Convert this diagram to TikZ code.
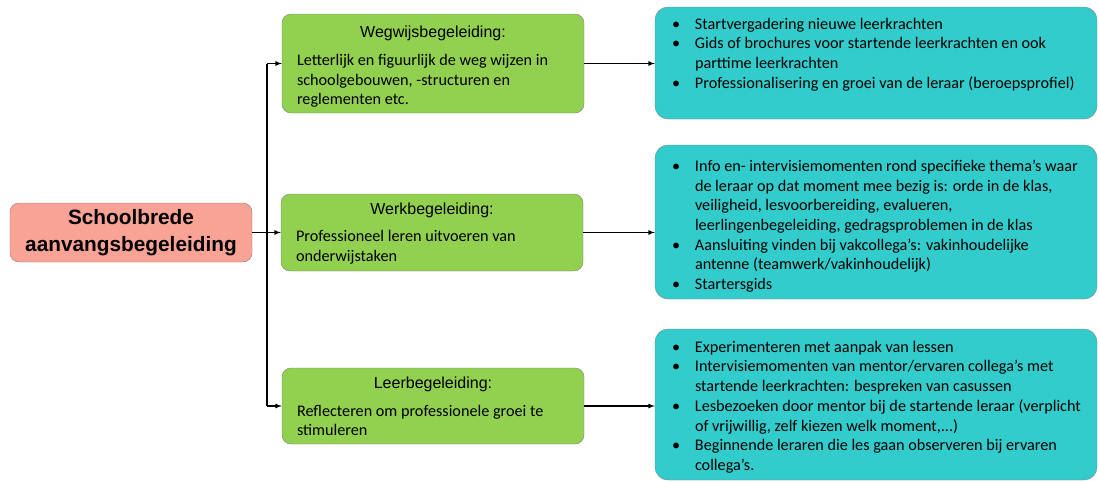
\documentclass[tikz,border=0pt]{standalone}
\usepackage{fontspec}
\setmainfont{Carlito}
\newfontfamily\arialfont{Liberation Sans}
\usepackage{tikz}
\usepackage{xcolor}
\usetikzlibrary{positioning, arrows}

\definecolor{zalm}{HTML}{F9A397}
\definecolor{gras}{HTML}{92D050}
\definecolor{turkoois}{HTML}{33CCCC}
\definecolor{rand}{HTML}{808080}

% bullet with hanging indent
\newcommand{\punt}{\par\hangindent=23pt\hangafter=1\noindent\makebox[23pt][l]{\textbullet}}
% green box: title + body
\newcommand{\groenvak}[3]{\parbox{302pt}{\vspace*{#1}\makebox[\linewidth]{\arialfont\fontsize{16}{18}\selectfont #2}\par\vspace{8pt}%
\leftskip=15pt\rightskip=0pt plus 1fil\fontsize{16.2}{19.7}\selectfont #3\par}}
% blue box: list at the top
\newcommand{\blauwvak}[3]{\parbox[c][#1][t]{442pt}{\leftskip=17pt\rightskip=0pt plus 1fil\fontsize{16.2}{19.7}\selectfont\vspace*{#2}#3\par}}

\begin{document}
\begin{tikzpicture}[x=1pt, y=-1pt,
  hoofd/.style={draw=rand, fill=zalm, rounded corners=9pt, minimum width=242pt, minimum height=59pt,
    inner sep=0pt, align=center, font=\arialfont\bfseries\fontsize{20.8}{27}\selectfont},
  groen/.style={draw=rand, fill=gras, rounded corners=9pt, minimum width=302pt, inner sep=0pt},
  blauw/.style={draw=rand, fill=turkoois, rounded corners=13pt, minimum width=442pt, inner sep=0pt},
  pijl/.style={-latex, line width=1.2pt}]
\useasboundingbox (0,0) rectangle (1099,482);
%
\node[hoofd] (start) at (131,232.5) {Schoolbrede\\aanvangsbegeleiding};
%
\node[groen, minimum height=99pt] (weg) at (433,63.5) {\groenvak{7pt}{Wegwijsbegeleiding:}{Letterlijk en figuurlijk de weg wijzen in\\schoolgebouwen, -structuren en\\reglementen etc.}};
\node[groen, minimum height=77pt] (werk) at (432,232.5) {\groenvak{2pt}{Werkbegeleiding:}{Professioneel leren uitvoeren van\\onderwijstaken}};
\node[groen, minimum height=76pt] (leer) at (433,406) {\groenvak{1pt}{Leerbegeleiding:}{Reflecteren om professionele groei te\\stimuleren}};
%
\node[blauw, minimum height=112pt] (doel1) at (876,63) {\blauwvak{112pt}{11pt}{%
\punt Startvergadering nieuwe leerkrachten
\punt Gids of brochures voor startende leerkrachten en ook\\parttime leerkrachten
\punt Professionalisering  en groei van de leraar (beroepsprofiel)}};
\node[blauw, minimum height=154pt] (doel2) at (876,222) {\blauwvak{154pt}{15pt}{%
\punt Info en- intervisiemomenten  rond specifieke thema’s waar\\de leraar op dat moment mee bezig is: orde in de klas,\\veiligheid,  lesvoorbereiding,  evalueren,\\leerlingenbegeleiding,  gedragsproblemen  in de klas
\punt Aansluiting vinden bij vakcollega’s: vakinhoudelijke\\antenne (teamwerk/vakinhoudelijk)
\punt Startersgids}};
\node[blauw, minimum height=151pt] (doel3) at (876,404.5) {\blauwvak{151pt}{12pt}{%
\punt Experimenteren  met aanpak van lessen
\punt Intervisiemomenten  van mentor/ervaren collega’s met\\startende leerkrachten: bespreken van casussen
\punt Lesbezoeken  door mentor bij de startende leraar (verplicht\\of vrijwillig, zelf kiezen welk moment,...)
\punt Beginnende  leraren die les gaan observeren bij ervaren\\collega’s.}};
%
\coordinate (split) at (267,232.5);
\draw[pijl] (start) -- (werk);
\draw[line width=1.2pt] (split |- weg.west) -- (split |- leer.west);
\draw[pijl] (split |- weg.west) -- (weg.west);
\draw[pijl] (split |- leer.west) -- (leer.west);
%
\draw[pijl] (weg.east) -- (weg.east -| doel1.west);
\draw[pijl] (werk.east) -- (werk.east -| doel2.west);
\draw[pijl] (leer.east) -- (leer.east -| doel3.west);
\end{tikzpicture}
\end{document}
